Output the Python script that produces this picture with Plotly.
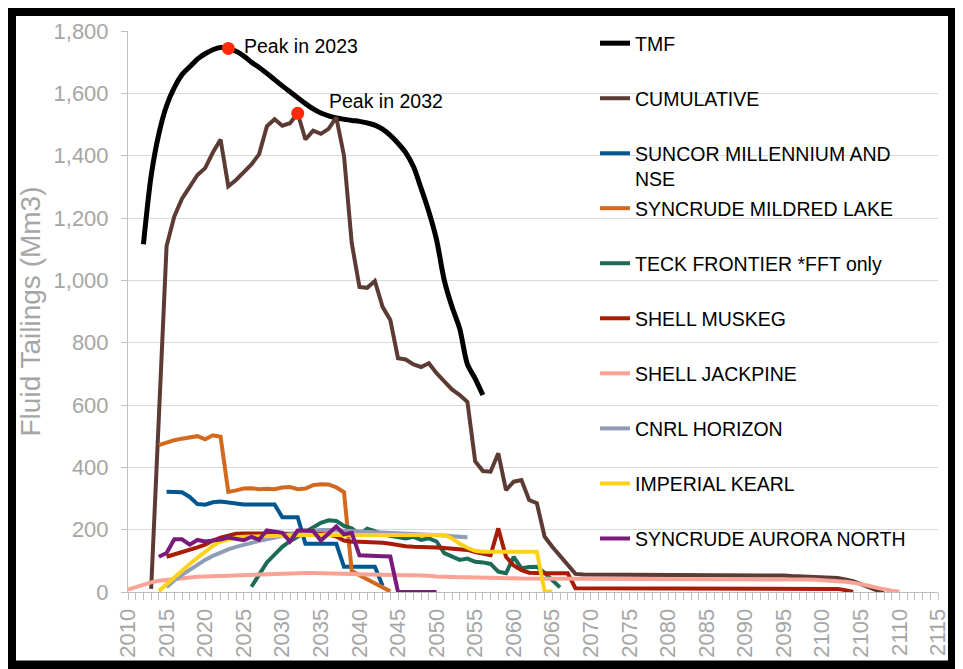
import plotly.graph_objects as go

# ---------------- data ----------------
tmf_years = list(range(2012, 2057))
tmf_values = [1116, 1335, 1470, 1560, 1618, 1660, 1685, 1710, 1727, 1740, 1747, 1744,
              1735, 1720, 1700, 1683, 1664, 1644, 1624, 1605, 1586, 1567, 1550, 1537,
              1528, 1521, 1517, 1513, 1510, 1505, 1498, 1485, 1465, 1440, 1410, 1365,
              1295, 1220, 1130, 1000, 915, 845, 730, 685, 632]

cum_years = list(range(2013, 2109))
cum_values = [10, 560, 1110, 1205, 1262, 1300, 1338, 1360, 1410, 1452, 1302, 1322,
              1345, 1372, 1405, 1494, 1517, 1496, 1504, 1536, 1452, 1480, 1470, 1486,
              1523, 1400, 1120, 979, 976, 998, 915, 873, 750, 746, 730, 722, 734, 702,
              676, 650, 632, 610, 420, 388, 386, 445, 327, 354, 359, 295, 285, 178,
              145, 115, 88, 58, 56, 56, 55, 54, 55, 54, 53, 54, 55, 55, 56, 56, 56, 56,
              56, 56, 55, 55, 55, 55, 55, 55, 55, 56, 55, 54, 53, 51, 50, 49, 50, 49,
              48, 45, 40, 35, 25, 15, 6, 0]

suncor_years = list(range(2015, 2044))
suncor_values = [322, 322, 320, 305, 282, 280, 288, 290, 286, 284, 281, 281, 281, 281,
                 281, 240, 240, 240, 155, 155, 155, 155, 155, 81, 81, 81, 81, 81, 20]

mildred_years = list(range(2014, 2045))
mildred_values = [471, 480, 487, 492, 495, 500, 490, 503, 498, 321, 326, 332, 333, 330,
                  331, 330, 335, 337, 330, 332, 343, 346, 345, 336, 320, 68, 54, 41, 28,
                  15, 2]

teck_years = list(range(2026, 2067))
teck_values = [17, 55, 95, 120, 145, 163, 178, 192, 207, 222, 230, 228, 212, 204, 185,
               203, 195, 185, 180, 177, 172, 177, 167, 172, 162, 125, 115, 103, 107, 97,
               95, 90, 65, 60, 113, 76, 80, 81, 62, 38, 15]

muskeg_years = list(range(2015, 2107))
muskeg_values = [113, 120, 128, 136, 143, 152, 165, 174, 182, 187, 188, 188, 188, 188,
                 188, 188, 188, 187, 187, 186, 186, 184, 178, 165, 161, 161, 161, 160,
                 158, 155, 150, 147, 145, 145, 144, 143, 141, 140, 138, 135, 128, 122,
                 118, 204, 113, 85, 70, 62, 60, 60, 60, 60, 60, 12, 12, 12, 12, 12, 12,
                 12, 12, 12, 12, 12, 12, 12, 12, 12, 12, 12, 12, 12, 12, 12, 12, 12, 12,
                 12, 12, 12, 12, 12, 12, 12, 12, 12, 12, 10, 6, 0]

jackpine_years = list(range(2010, 2111))
jackpine_values = [8, 16, 24, 31, 36, 39, 43, 46, 48, 49, 50, 51, 51, 52, 53, 54, 55, 57,
                   59, 60, 61, 61, 61, 61, 61, 61, 61, 60, 60, 58, 57, 56, 55, 54, 54, 54,
                   54, 54, 54, 52, 50, 48, 48, 47, 47, 47, 46, 45, 45, 44, 44, 43, 43, 43,
                   43, 43, 43, 43, 43, 43, 43, 43, 43, 43, 43, 43, 43, 43, 43, 43, 43, 43,
                   43, 43, 43, 43, 43, 43, 43, 43, 43, 43, 43, 43, 42, 41, 41, 40, 40, 39,
                   38, 37, 36, 33, 30, 26, 20, 14, 8, 4, 1]

cnrl_years = list(range(2015, 2055))
cnrl_values = [15, 38, 55, 72, 88, 103, 116, 127, 137, 145, 152, 158, 164, 169, 175, 181,
               186, 191, 194, 197, 199, 199, 198, 197, 196, 195, 194, 193, 192, 190, 188,
               187, 186, 184, 183, 182, 181, 179, 178, 176]

kearl_years = list(range(2014, 2066))
kearl_values = [3, 25, 50, 70, 90, 110, 130, 148, 162, 170, 175, 177, 178, 179, 180, 181,
                181, 182, 182, 183, 183, 183, 183, 183, 183, 183, 183, 183, 183, 183, 183,
                183, 183, 183, 183, 183, 183, 183, 172, 155, 142, 132, 129, 129, 129, 129,
                129, 129, 129, 129, 2, 2]

aurora_years = list(range(2014, 2051))
aurora_values = [113, 125, 169, 169, 152, 167, 162, 164, 168, 175, 170, 166, 177, 168, 198,
                 195, 190, 162, 197, 197, 196, 165, 188, 210, 185, 190, 118, 116, 115, 115,
                 114, 0, 0, 0, 0, 0, 0]

peak_years = [2023, 2032]
peak_values = [1744, 1536]
peak_labels = ["Peak in 2023", "Peak in 2032"]

series = [
    ("TMF", tmf_years, tmf_values, "#000000", 5, "spline", "legend"),
    ("CUMULATIVE", cum_years, cum_values, "#5d3b35", 4, "linear", "legend"),
    ("SUNCOR MILLENNIUM AND<br>NSE", suncor_years, suncor_values, "#00568f", 4, "linear", "legend"),
    ("SYNCRUDE MILDRED LAKE", mildred_years, mildred_values, "#d3691f", 4, "linear", "legend2"),
    ("TECK FRONTIER *FFT only", teck_years, teck_values, "#1c6b57", 4, "linear", "legend2"),
    ("SHELL MUSKEG", muskeg_years, muskeg_values, "#a81b05", 4, "linear", "legend2"),
    ("SHELL JACKPINE", jackpine_years, jackpine_values, "#f8a396", 4, "linear", "legend2"),
    ("CNRL HORIZON", cnrl_years, cnrl_values, "#8e9db5", 4, "linear", "legend2"),
    ("IMPERIAL KEARL", kearl_years, kearl_values, "#ffd21a", 4, "linear", "legend2"),
    ("SYNCRUDE AURORA NORTH", aurora_years, aurora_values, "#7a1b7c", 4, "linear", "legend2"),
]

FONT = "Liberation Sans, Arial, sans-serif"
GREY = "#a6a6a6"

fig = go.Figure()
for name, xs, ys, color, w, shape, leg in series:
    fig.add_trace(go.Scatter(
        x=xs, y=ys, mode="lines", name=name,
        line=dict(color=color, width=w, shape=shape, smoothing=0.8),
        legend=leg, legendgroup=name,
    ))

fig.add_trace(go.Scatter(
    x=peak_years, y=peak_values, mode="markers", showlegend=False,
    marker=dict(color="#ff2a0a", size=13, line=dict(width=0)),
))

label_shift = [(14, 2), (29, 12)]
for (xv, yv, txt), (dx, dy) in zip(zip(peak_years, peak_values, peak_labels), label_shift):
    fig.add_annotation(x=xv, y=yv, text=txt, showarrow=False, xanchor="left",
                       yanchor="middle", xshift=dx, yshift=dy,
                       font=dict(family=FONT, size=19.5, color="#000000"))

# the page body has an 8px margin, so figure pixel = page pixel - 8
L, R, T, B = 120, 33, 23, 85
W, H = 963, 669
pw, ph = W - L - R, H - T - B

def px(xp):
    return (xp - L) / pw

def py(yp):
    return (H - B - yp) / ph

fig.add_shape(type="rect", xref="paper", yref="paper",
              x0=px(3.5), x1=px(944.5), y0=py(657), y1=py(3.5),
              line=dict(color="#000000", width=9), fillcolor="rgba(0,0,0,0)", layer="above")

legend_common = dict(
    font=dict(family=FONT, size=19.5, color="#000000"),
    bgcolor="rgba(0,0,0,0)", borderwidth=0, valign="top",
    traceorder="grouped", tracegroupgap=26.7, itemwidth=30,
    xanchor="left", yanchor="top",
)

fig.update_layout(
    width=W, height=H,
    margin=dict(l=L, r=R, t=T, b=B, pad=0),
    paper_bgcolor="#ffffff", plot_bgcolor="#ffffff",
    font=dict(family=FONT, size=19.5, color=GREY),
    legend=dict(x=px(587), y=py(16), **legend_common),
    legend2=dict(x=px(587), y=py(181), **legend_common),
    xaxis=dict(
        range=[2010, 2115], tick0=2010, dtick=5, tickformat="d", tickangle=-90,
        showgrid=False, zeroline=False, showline=True, linecolor="#bfbfbf", linewidth=1,
        ticks="outside", ticklen=7, tickcolor="#bfbfbf",
        minor=dict(dtick=1, ticks="outside", ticklen=7, tickcolor="#bfbfbf", showgrid=False),
        tickfont=dict(family=FONT, size=22, color=GREY),
    ),
    yaxis=dict(
        range=[0, 1800], dtick=200, tickformat=",d",
        showgrid=True, gridcolor="#d9d9d9", gridwidth=1, zeroline=False,
        showline=True, linecolor="#bfbfbf", linewidth=1,
        ticks="outside", ticklen=6, tickcolor="#bfbfbf", ticklabelstandoff=8,
        tickfont=dict(family=FONT, size=22, color=GREY),
        title=dict(text="Fluid Tailings (Mm3)", font=dict(family=FONT, size=28, color=GREY),
                   standoff=4),
    ),
)

fig.write_html("out.html")
